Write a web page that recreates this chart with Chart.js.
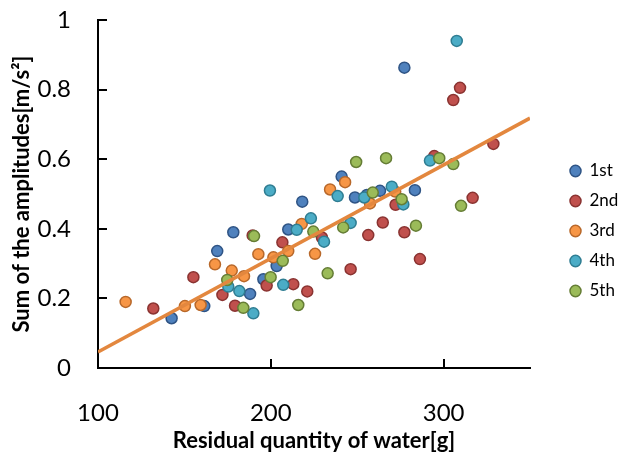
<!DOCTYPE html>
<html lang="en">
<head>
  <meta charset="UTF-8">
  <title>Sum of the amplitudes vs residual quantity of water</title>
  <script src="https://cdn.jsdelivr.net/npm/chart.js"></script>
  <style>
    body { margin: 0; background: #fff; }
    canvas { display: block; }
  </style>
</head>
<body>
<canvas id="ampChart" width="618" height="452"></canvas>
<script>
  // residual water [g] / amplitude sum [m/s2], one pair of arrays per trial
  var firstX  = [142.6, 161.5, 169.0, 178.3, 188.0, 195.7, 203.4, 210.1, 218.2, 241.0, 248.7, 255.6, 263.2, 277.3, 283.4];
  var firstY  = [0.143, 0.178, 0.336, 0.390, 0.213, 0.255, 0.293, 0.398, 0.478, 0.550, 0.490, 0.497, 0.509, 0.863, 0.511];
  var secondX = [132.0, 155.2, 172.0, 179.3, 189.5, 197.6, 206.7, 213.0, 221.1, 229.6, 246.2, 256.4, 264.8, 272.2, 277.3, 286.3, 294.6, 305.6, 309.5, 316.8, 328.8];
  var secondY = [0.171, 0.261, 0.210, 0.179, 0.381, 0.237, 0.361, 0.241, 0.220, 0.375, 0.284, 0.382, 0.418, 0.469, 0.390, 0.313, 0.609, 0.770, 0.805, 0.489, 0.644];
  var thirdX  = [116.0, 150.3, 159.4, 167.7, 177.4, 184.5, 192.8, 201.5, 210.1, 217.9, 225.6, 234.3, 243.0, 257.4, 272.0];
  var thirdY  = [0.190, 0.178, 0.181, 0.298, 0.280, 0.264, 0.327, 0.318, 0.336, 0.414, 0.328, 0.513, 0.534, 0.473, 0.507];
  var fourthX = [175.4, 181.8, 189.9, 199.5, 207.2, 215.0, 223.2, 230.8, 238.7, 246.2, 254.1, 270.0, 276.7, 292.1, 307.6];
  var fourthY = [0.234, 0.221, 0.157, 0.510, 0.239, 0.397, 0.430, 0.363, 0.494, 0.417, 0.490, 0.521, 0.470, 0.596, 0.940];
  var fifthX  = [174.8, 184.1, 190.3, 199.9, 206.9, 215.9, 224.6, 232.9, 241.9, 249.4, 259.0, 266.7, 275.7, 284.0, 297.5, 305.6, 310.1];
  var fifthY  = [0.253, 0.173, 0.379, 0.261, 0.308, 0.181, 0.392, 0.272, 0.404, 0.592, 0.504, 0.603, 0.485, 0.409, 0.603, 0.586, 0.466];

  var seriesNames = ['1st', '2nd', '3rd', '4th', '5th'];

  // linear trend over all trials
  var trendX = [100, 350];
  var trendY = [0.046, 0.718];

  var xTicks = [100, 200, 300];
  var yTicks = [0, 0.2, 0.4, 0.6, 0.8, 1];

  var fills   = ['#4f81bd', '#c0504d', '#f79646', '#4bacc6', '#9bbb59'];
  var borders = ['#2f5485', '#8a3331', '#b8682a', '#2f7d92', '#657d35'];

  function toPoints(xs, ys) {
    return xs.map(function (x, i) { return { x: x, y: ys[i] }; });
  }

  var seriesData = [
    toPoints(firstX, firstY),
    toPoints(secondX, secondY),
    toPoints(thirdX, thirdY),
    toPoints(fourthX, fourthY),
    toPoints(fifthX, fifthY)
  ];

  var datasets = seriesNames.map(function (name, i) {
    return {
      type: 'scatter',
      label: name,
      data: seriesData[i],
      pointRadius: 5.5,
      pointHoverRadius: 5.5,
      pointBorderWidth: 1.5,
      backgroundColor: fills[i],
      borderColor: borders[i],
      order: seriesNames.length - i   // later trials drawn on top
    };
  });

  datasets.push({
    type: 'line',
    label: 'trend',
    data: toPoints(trendX, trendY),
    borderColor: '#e3873e',
    borderWidth: 3.5,
    pointRadius: 0,
    fill: false,
    order: 0
  });

  // small tick marks pointing into the plot
  var innerTicks = {
    id: 'innerTicks',
    beforeDatasetsDraw: function (chart) {
      var ctx = chart.ctx, area = chart.chartArea;
      var sx = chart.scales.x, sy = chart.scales.y;
      ctx.save();
      ctx.strokeStyle = '#000';
      ctx.lineWidth = 2;
      ctx.beginPath();
      sy.ticks.forEach(function (t) {
        var py = Math.round(sy.getPixelForValue(t.value));
        ctx.moveTo(area.left, py);
        ctx.lineTo(area.left + 9, py);
      });
      sx.ticks.forEach(function (t) {
        var px = Math.round(sx.getPixelForValue(t.value));
        ctx.moveTo(px, area.bottom);
        ctx.lineTo(px, area.bottom - 9);
      });
      ctx.stroke();
      ctx.restore();
    }
  };

  // move the legend block off the plot edge and give it room to the canvas edge
  var legendOffset = {
    id: 'legendOffset',
    afterLayout: function (chart) {
      var lg = chart.legend;
      lg.left += 27;
      lg.right = chart.width;
      lg.width = lg.right - lg.left;
      lg.top -= 5;
      lg.bottom -= 5;
    }
  };

  Chart.defaults.font.family = 'Lato, "Open Sans", sans-serif';
  Chart.defaults.color = '#000';

  new Chart(document.getElementById('ampChart'), {
    data: { datasets: datasets },
    options: {
      responsive: false,
      animation: false,
      layout: { padding: { top: 20, right: 38, bottom: 0, left: 0 } },
      plugins: {
        tooltip: { enabled: false },
        legend: {
          position: 'right',
          maxWidth: 50,
          labels: {
            usePointStyle: true,
            pointStyle: 'circle',
            pointStyleWidth: 11,
            boxHeight: 8,
            padding: 13,
            font: { size: 17 },
            color: '#000',
            filter: function (item) { return item.datasetIndex < seriesNames.length; },
            sort: function (a, b) { return a.datasetIndex - b.datasetIndex; }
          }
        }
      },
      scales: {
        x: {
          type: 'linear',
          min: 100,
          max: 350,
          afterBuildTicks: function (s) { s.ticks = xTicks.map(function (v) { return { value: v }; }); },
          afterFit: function (s) { s.height = 84; },
          grid: { display: false },
          border: { color: '#000', width: 2 },
          ticks: { font: { size: 24 }, padding: 23, color: '#000' },
          title: {
            display: true,
            text: 'Residual quantity of water[g]',
            font: { size: 22, weight: 'bold', lineHeight: 1 },
            padding: { top: 0, bottom: 0 },
            color: '#000'
          }
        },
        y: {
          type: 'linear',
          min: 0,
          max: 1,
          afterBuildTicks: function (s) { s.ticks = yTicks.map(function (v) { return { value: v }; }); },
          afterFit: function (s) {
            s.width = 98;
            // keep the label padding from shrinking the plot vertically
            s.paddingTop = 0;
            s.paddingBottom = 0;
          },
          grid: { display: false },
          border: { color: '#000', width: 2 },
          ticks: {
            font: { size: 24 },
            padding: 19,
            color: '#000',
            callback: function (v) { return String(Math.round(v * 10) / 10); }
          },
          title: {
            display: true,
            text: 'Sum of the amplitudes[m/s²]',
            font: { size: 22, weight: 'bold', lineHeight: 1 },
            padding: { top: 11, bottom: 0 },
            color: '#000'
          }
        }
      }
    },
    plugins: [innerTicks, legendOffset]
  });
</script>
</body>
</html>
